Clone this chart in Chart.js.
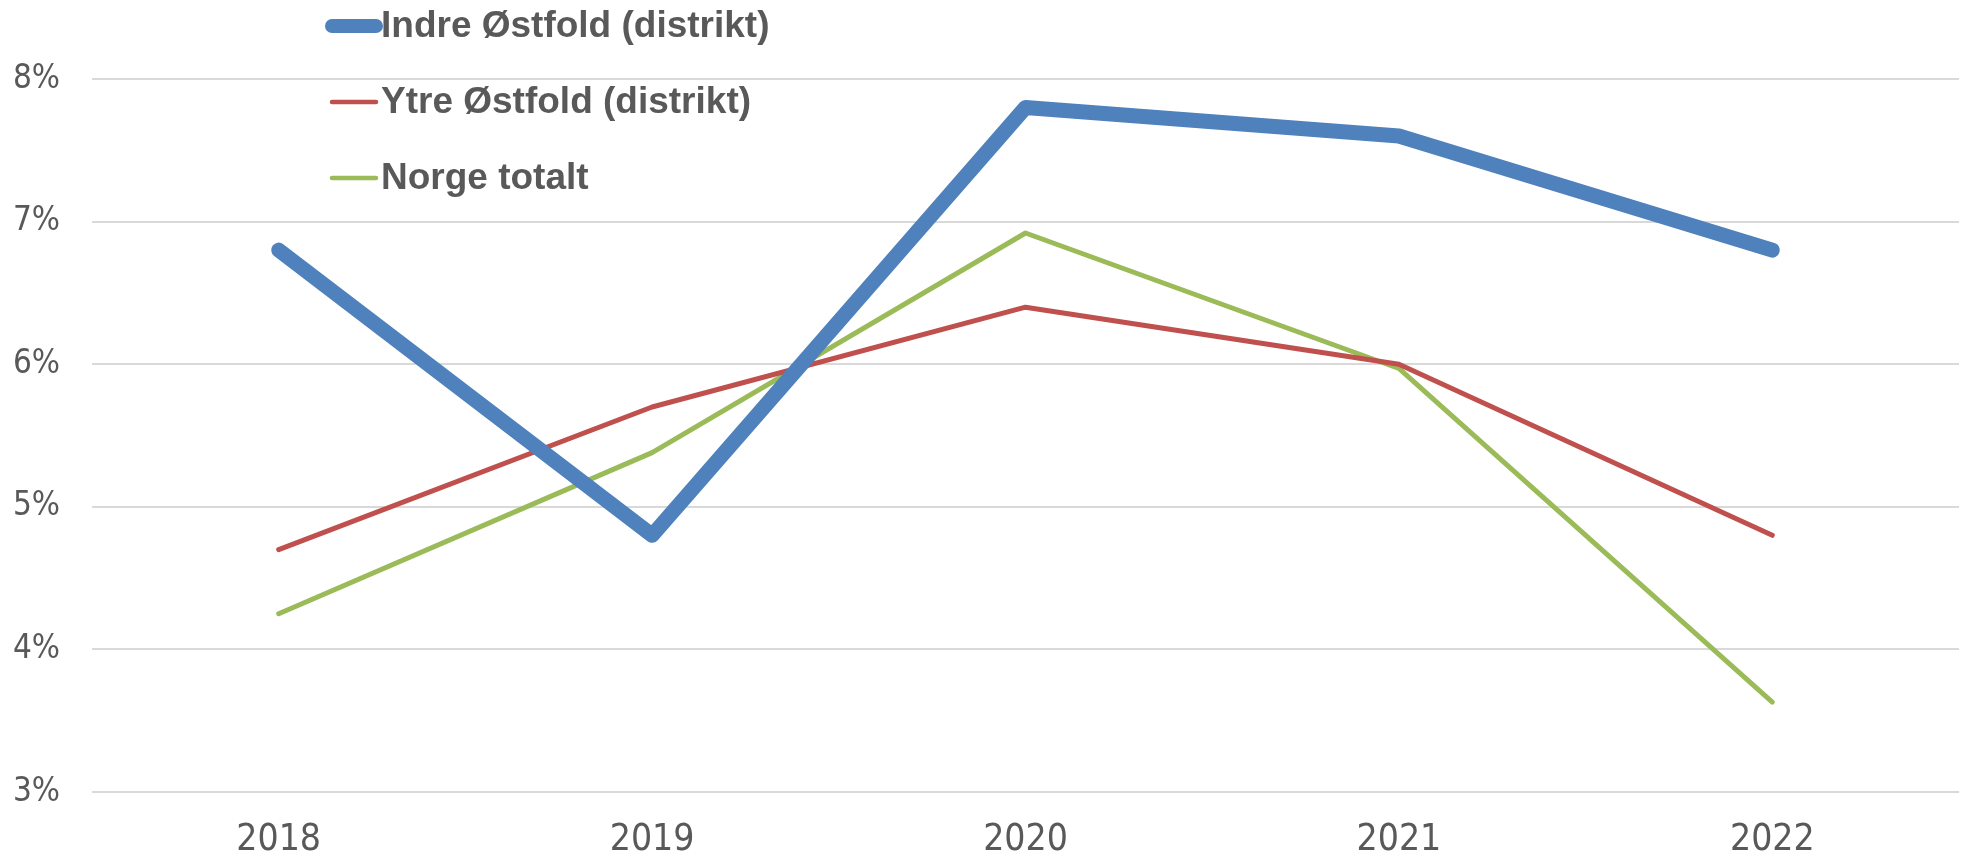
<!DOCTYPE html>
<html>
<head>
<meta charset="utf-8">
<script src="https://cdn.jsdelivr.net/npm/chart.js@4/dist/chart.umd.min.js"></script>
<style>
  html, body { margin: 0; padding: 0; background: #ffffff; }
  #wrap { width: 1966px; height: 857px; }
</style>
</head>
<body>
<div id="wrap"><canvas id="c" width="1966" height="857"></canvas></div>
<script>
const categories = ['2018', '2019', '2020', '2021', '2022'];
const seriesNames = ['Indre Østfold (distrikt)', 'Ytre Østfold (distrikt)', 'Norge totalt'];
const indreOstfold = [6.8, 4.8, 7.8, 7.6, 6.8];
const ytreOstfold = [4.7, 5.7, 6.4, 6.0, 4.8];
const norgeTotalt = [4.25, 5.38, 6.92, 5.97, 3.63];
const yMin = 3;
const yMax = 8;
const yStep = 1;

const TEXT = '#595959';
const TICK_FONT = "'DejaVu Sans Condensed', 'DejaVu Sans', sans-serif";

const legendPlugin = {
  id: 'customLegend',
  afterDraw(chart) {
    const ctx = chart.ctx;
    ctx.save();
    chart.data.datasets.forEach((ds, i) => {
      const y = 26 + i * 76;
      ctx.beginPath();
      ctx.strokeStyle = ds.borderColor;
      ctx.lineWidth = ds.legendWidth;
      ctx.lineCap = 'round';
      ctx.moveTo(332, y);
      ctx.lineTo(376, y);
      ctx.stroke();
      ctx.fillStyle = TEXT;
      ctx.font = "bold 37px 'Liberation Sans', Arial, sans-serif";
      ctx.textBaseline = 'alphabetic';
      ctx.textAlign = 'left';
      ctx.fillText(ds.label, 381, y + 11);
    });
    ctx.restore();
  }
};

new Chart(document.getElementById('c'), {
  type: 'line',
  data: {
    labels: categories,
    datasets: [
      { label: seriesNames[0], data: indreOstfold, borderColor: '#4F81BD', backgroundColor: '#4F81BD', borderWidth: 15, legendWidth: 14 },
      { label: seriesNames[1], data: ytreOstfold, borderColor: '#C0504D', backgroundColor: '#C0504D', borderWidth: 5, legendWidth: 4.5 },
      { label: seriesNames[2], data: norgeTotalt, borderColor: '#9BBB59', backgroundColor: '#9BBB59', borderWidth: 5, legendWidth: 4.5 }
    ]
  },
  options: {
    responsive: false,
    animation: false,
    devicePixelRatio: 1,
    layout: { padding: { top: 79, right: 7, bottom: 0, left: 0 } },
    elements: {
      point: { radius: 0, hoverRadius: 0 },
      line: { tension: 0, borderCapStyle: 'round', borderJoinStyle: 'round', fill: false }
    },
    plugins: { legend: { display: false }, tooltip: { enabled: false }, title: { display: false } },
    scales: {
      x: {
        offset: true,
        grid: { display: false, drawTicks: false },
        border: { display: false },
        ticks: { color: TEXT, font: { family: TICK_FONT, size: 37 }, padding: 26, maxRotation: 0 },
        afterFit(scale) { scale.height = 65; }
      },
      y: {
        min: yMin,
        max: yMax,
        grid: { color: '#D9D9D9', lineWidth: 2, drawTicks: false },
        border: { display: false },
        ticks: {
          stepSize: yStep,
          color: TEXT,
          font: { family: TICK_FONT, size: 33 },
          padding: 32,
          callback: v => v + '%'
        },
        afterFit(scale) { scale.width = 92; }
      }
    }
  },
  plugins: [legendPlugin]
});
</script>
</body>
</html>
